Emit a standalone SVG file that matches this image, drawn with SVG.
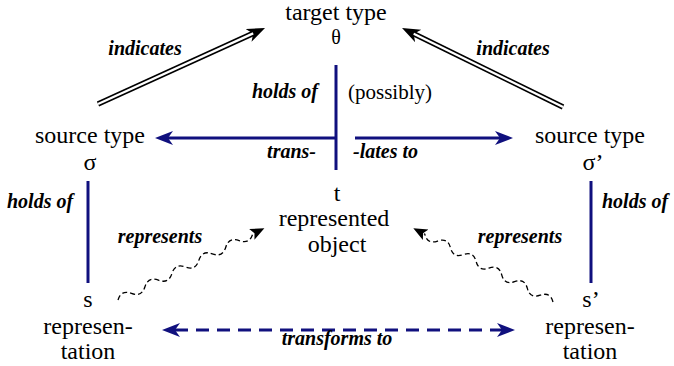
<svg xmlns="http://www.w3.org/2000/svg" width="674" height="366" viewBox="0 0 674 366">
<defs>
<marker id="nh" markerUnits="userSpaceOnUse" markerWidth="20" markerHeight="16" refX="5" refY="7" orient="auto-start-reverse"><path d="M0,0 L18,7 L0,14 L5,7 z" fill="#10107e"/></marker>
<marker id="bh" markerUnits="userSpaceOnUse" markerWidth="20" markerHeight="16" refX="5" refY="7" orient="auto"><path d="M0,0 L18,7 L0,14 L5,7 z" fill="#000"/></marker>
<marker id="wh" markerUnits="userSpaceOnUse" markerWidth="16" markerHeight="14" refX="2" refY="6" orient="auto"><path d="M0,0 L14,6 L0,12 L3,6 z" fill="#000"/></marker>
</defs>
<g id="connectors" fill="none">
<g stroke="#10107e" stroke-width="3">
<line x1="336" y1="65" x2="336" y2="170"/>
<line x1="88" y1="181" x2="88" y2="283"/>
<line x1="591" y1="181" x2="591" y2="283"/>
<line x1="336" y1="138" x2="168" y2="138" marker-end="url(#nh)"/>
<line x1="355" y1="138" x2="500" y2="138" marker-end="url(#nh)"/>
<line x1="175" y1="330" x2="502" y2="330" stroke-dasharray="13,8" marker-start="url(#nh)" marker-end="url(#nh)"/>
</g>
<g transform="translate(98,104) rotate(-24.47)">
<line x1="0" y1="0" x2="170.5" y2="0" stroke="#000" stroke-width="5.5" marker-end="url(#bh)"/>
<line x1="0" y1="0" x2="170.5" y2="0" stroke="#fff" stroke-width="2.2"/>
</g>
<g transform="translate(563,107) rotate(-153.86)">
<line x1="0" y1="0" x2="166.3" y2="0" stroke="#000" stroke-width="5.5" marker-end="url(#bh)"/>
<line x1="0" y1="0" x2="166.3" y2="0" stroke="#fff" stroke-width="2.2"/>
</g>
<g stroke="#000" stroke-width="1.3" stroke-dasharray="5,3">
<path transform="translate(118,300) rotate(-26.1)" d="M0,0 q7.5,-8 15,0 t15,0 t15,0 t15,0 t15,0 t15,0 t15,0 t15,0 t15,0 t15,0 l1,0" marker-end="url(#wh)"/>
<path transform="translate(553,302) rotate(-152.14)" d="M0,0 q7.25,8 14.5,0 t14.5,0 t14.5,0 t14.5,0 t14.5,0 t14.5,0 t14.5,0 t14.5,0 t14.5,0 t14.5,0 l1,0" marker-end="url(#wh)"/>
</g>
</g>
<g id="target">
<text font-family="Liberation Serif" font-size="24" text-anchor="middle" x="336" y="20">target type</text>
<text font-family="Liberation Serif" font-size="20" text-anchor="middle" x="336" y="44">θ</text>
</g>
<g id="source-left">
<text font-family="Liberation Serif" font-size="24" text-anchor="middle" x="90" y="143">source type</text>
<text font-family="Liberation Serif" font-size="24" text-anchor="middle" x="90" y="170">σ</text>
</g>
<g id="source-right">
<text font-family="Liberation Serif" font-size="24" text-anchor="middle" x="590" y="143">source type</text>
<text font-family="Liberation Serif" font-size="24" text-anchor="middle" x="593" y="170">σ’</text>
</g>
<g id="object">
<text font-family="Liberation Serif" font-size="24" text-anchor="middle" x="337" y="201">t</text>
<text font-family="Liberation Serif" font-size="24" text-anchor="middle" x="334" y="226">represented</text>
<text font-family="Liberation Serif" font-size="24" text-anchor="middle" x="337" y="252">object</text>
</g>
<g id="rep-left">
<text font-family="Liberation Serif" font-size="24" text-anchor="middle" x="88" y="307">s</text>
<text font-family="Liberation Serif" font-size="24" text-anchor="middle" x="88" y="334">represen-</text>
<text font-family="Liberation Serif" font-size="24" text-anchor="middle" x="88" y="359">tation</text>
</g>
<g id="rep-right">
<text font-family="Liberation Serif" font-size="24" text-anchor="middle" x="591" y="307">s’</text>
<text font-family="Liberation Serif" font-size="24" text-anchor="middle" x="590" y="334">represen-</text>
<text font-family="Liberation Serif" font-size="24" text-anchor="middle" x="590" y="359">tation</text>
</g>
<g id="labels">
<text font-family="Liberation Serif" font-size="20" font-weight="bold" font-style="italic" x="145" y="55" text-anchor="middle">indicates</text>
<text font-family="Liberation Serif" font-size="20" font-weight="bold" font-style="italic" x="513" y="55" text-anchor="middle">indicates</text>
<text font-family="Liberation Serif" font-size="20" font-weight="bold" font-style="italic" x="318" y="98" text-anchor="end">holds of</text>
<text font-family="Liberation Serif" font-size="21" x="348" y="99">(possibly)</text>
<text font-family="Liberation Serif" font-size="20" font-weight="bold" font-style="italic" x="316" y="158" text-anchor="end">trans-</text>
<text font-family="Liberation Serif" font-size="20" font-weight="bold" font-style="italic" x="353" y="158">-lates to</text>
<text font-family="Liberation Serif" font-size="20" font-weight="bold" font-style="italic" x="7" y="208">holds of</text>
<text font-family="Liberation Serif" font-size="20" font-weight="bold" font-style="italic" x="602" y="208">holds of</text>
<text font-family="Liberation Serif" font-size="20" font-weight="bold" font-style="italic" x="160" y="243" text-anchor="middle">represents</text>
<text font-family="Liberation Serif" font-size="20" font-weight="bold" font-style="italic" x="520" y="243" text-anchor="middle">represents</text>
<text font-family="Liberation Serif" font-size="20" font-weight="bold" font-style="italic" x="337" y="345" text-anchor="middle">transforms to</text>
</g>
</svg>
